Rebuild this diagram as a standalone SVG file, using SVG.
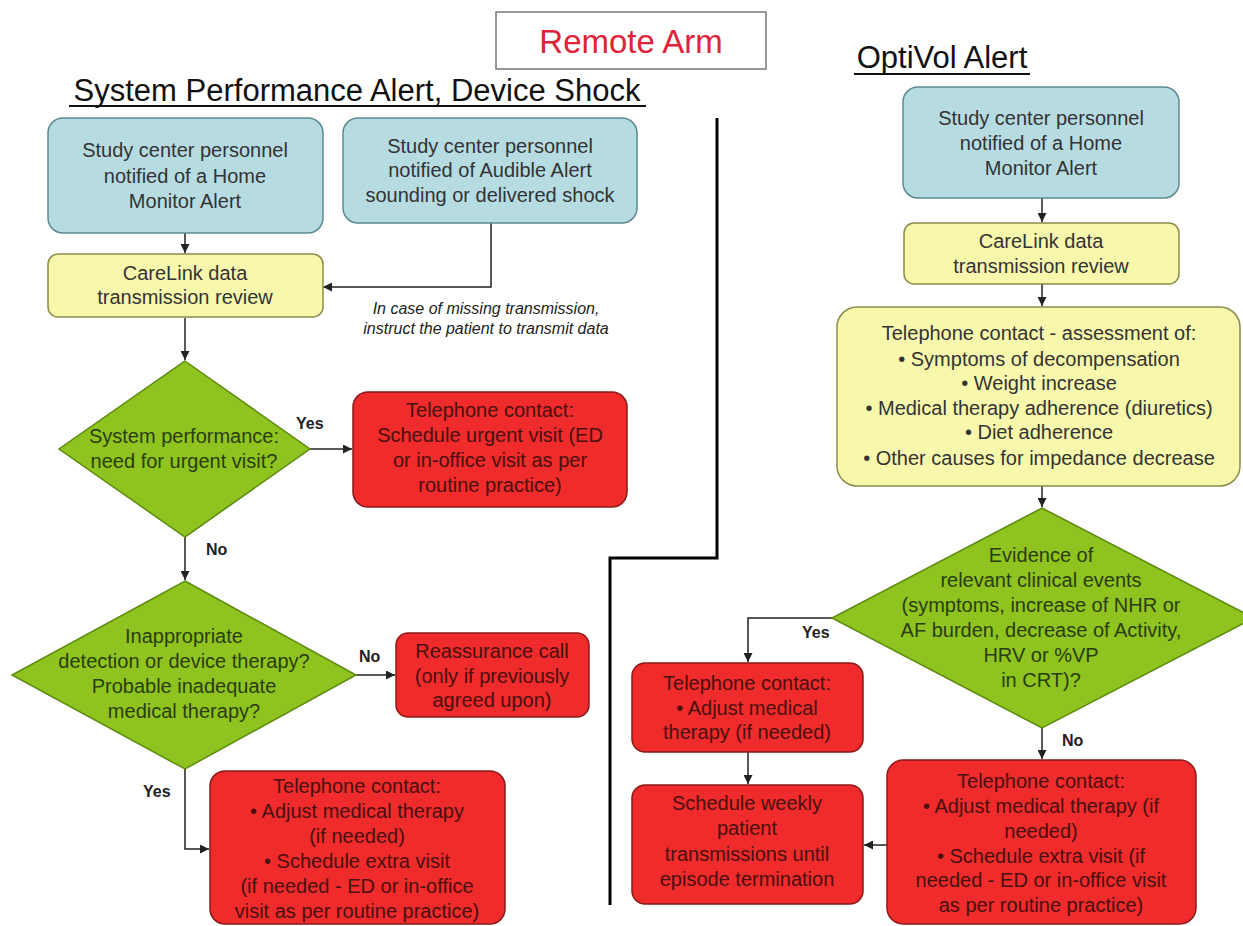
<svg xmlns="http://www.w3.org/2000/svg" width="1243" height="926" viewBox="0 0 1243 926">
<defs>
<style>
text{font-family:"Liberation Sans",Arial,sans-serif;}
.t{font-size:20px;text-anchor:middle;}
.blue rect{fill:#b6dce2;stroke:#5b8a90;stroke-width:1.5;}
.yel rect{fill:#f8f8ad;stroke:#8a8a4a;stroke-width:1.5;}
.red rect{fill:#ef2b2b;stroke:#8b1a1a;stroke-width:1.5;}
.grn polygon{fill:#8fc31f;stroke:#5d8a0f;stroke-width:1.5;}
.blue text,.yel text{fill:#333;}
.red text{fill:#4a0f0f;}
.grn text{fill:#2a3d10;}
.lbl{font-size:16px;font-weight:bold;fill:#222;}
.conn path{fill:none;stroke:#222;stroke-width:1.5;marker-end:url(#ah);}
.hd{font-size:31px;fill:#111;}
</style>
<marker id="ah" viewBox="0 0 10 10" refX="10" refY="5" markerWidth="9" markerHeight="9" markerUnits="userSpaceOnUse" orient="auto">
<path d="M0,0 L10,5 L0,10 z" fill="#222"/>
</marker>
</defs>
<rect width="1243" height="926" fill="#fff"/>

<g id="title">
<rect x="496" y="12" width="270" height="57" fill="#fff" stroke="#777" stroke-width="1.5"/>
<text x="631" y="53" font-size="33" fill="#e0223a" text-anchor="middle">Remote Arm</text>
</g>
<g id="heading-left">
<text class="hd" x="357" y="101" text-anchor="middle">System Performance Alert, Device Shock</text>
<line x1="69" y1="106" x2="646" y2="106" stroke="#111" stroke-width="2"/>
</g>
<g id="heading-right">
<text class="hd" x="942" y="68" text-anchor="middle">OptiVol Alert</text>
<line x1="854" y1="74" x2="1030" y2="74" stroke="#111" stroke-width="2"/>
</g>
<g id="divider">
<path d="M717 118 V558 H610 V905" fill="none" stroke="#000" stroke-width="3"/>
</g>

<g class="conn" id="connectors">
<path d="M185 233 V253"/>
<path d="M491 223 V287 H323"/>
<path d="M185 318 V360"/>
<path d="M310 449 H352"/>
<path d="M185 537 V580"/>
<path d="M356 675 H395"/>
<path d="M185 769 V849 H209"/>
<path d="M1042 198 V222"/>
<path d="M1042 284 V306"/>
<path d="M1042 486 V507"/>
<path d="M832 618 H748 V662"/>
<path d="M1042 728 V759"/>
<path d="M748 752 V784"/>
<path d="M887 845 H864"/>
</g>

<g id="labels">
<text class="lbl" x="296" y="429">Yes</text>
<text class="lbl" x="206" y="555">No</text>
<text class="lbl" x="359" y="662">No</text>
<text class="lbl" x="143" y="797">Yes</text>
<text class="lbl" x="802" y="638">Yes</text>
<text class="lbl" x="1062" y="746">No</text>
</g>

<g id="note">
<text x="486" y="314" font-size="16" font-style="italic" fill="#222" text-anchor="middle">In case of missing transmission,</text>
<text x="486" y="334" font-size="16" font-style="italic" fill="#222" text-anchor="middle">instruct the patient to transmit data</text>
</g>

<g id="home-alert-left" class="blue">
<rect x="48" y="118" width="275" height="115" rx="15"/>
<text class="t" x="185" y="157">Study center personnel</text>
<text class="t" x="185" y="183">notified of a Home</text>
<text class="t" x="185" y="208">Monitor Alert</text>
</g>
<g id="audible-alert" class="blue">
<rect x="343" y="118" width="294" height="105" rx="15"/>
<text class="t" x="490" y="153">Study center personnel</text>
<text class="t" x="490" y="177">notified of Audible Alert</text>
<text class="t" x="490" y="202">sounding or delivered shock</text>
</g>
<g id="carelink-left" class="yel">
<rect x="48" y="254" width="275" height="63" rx="10"/>
<text class="t" x="185" y="280">CareLink data</text>
<text class="t" x="185" y="304">transmission review</text>
</g>
<g id="system-performance" class="grn">
<polygon points="185,361 310,449 185,537 59,449"/>
<text class="t" x="184" y="443">System performance:</text>
<text class="t" x="184" y="468">need for urgent visit?</text>
</g>
<g id="urgent-visit" class="red">
<rect x="353" y="392" width="274" height="115" rx="15"/>
<text class="t" x="490" y="417">Telephone contact:</text>
<text class="t" x="490" y="442">Schedule urgent visit (ED</text>
<text class="t" x="490" y="467">or in-office visit as per</text>
<text class="t" x="490" y="492">routine practice)</text>
</g>
<g id="inappropriate" class="grn">
<polygon points="185,581 356,675 185,769 12,675"/>
<text class="t" x="184" y="643">Inappropriate</text>
<text class="t" x="184" y="668">detection or device therapy?</text>
<text class="t" x="184" y="693">Probable inadequate</text>
<text class="t" x="184" y="718">medical therapy?</text>
</g>
<g id="reassurance" class="red">
<rect x="396" y="633" width="193" height="84" rx="12"/>
<text class="t" x="492" y="658">Reassurance call</text>
<text class="t" x="492" y="683">(only if previously</text>
<text class="t" x="492" y="707">agreed upon)</text>
</g>
<g id="adjust-left" class="red">
<rect x="210" y="771" width="295" height="153" rx="15"/>
<text class="t" x="357" y="793">Telephone contact:</text>
<text class="t" x="357" y="818">• Adjust medical therapy</text>
<text class="t" x="357" y="843">(if needed)</text>
<text class="t" x="357" y="868">• Schedule extra visit</text>
<text class="t" x="357" y="893">(if needed - ED or in-office</text>
<text class="t" x="357" y="918">visit as per routine practice)</text>
</g>

<g id="home-alert-right" class="blue">
<rect x="903" y="87" width="276" height="111" rx="15"/>
<text class="t" x="1041" y="125">Study center personnel</text>
<text class="t" x="1041" y="150">notified of a Home</text>
<text class="t" x="1041" y="175">Monitor Alert</text>
</g>
<g id="carelink-right" class="yel">
<rect x="904" y="223" width="275" height="61" rx="10"/>
<text class="t" x="1041" y="248">CareLink data</text>
<text class="t" x="1041" y="273">transmission review</text>
</g>
<g id="assessment" class="yel">
<rect x="837" y="307" width="403" height="179" rx="20"/>
<text class="t" x="1039" y="340">Telephone contact - assessment of:</text>
<text class="t" x="1039" y="366">• Symptoms of decompensation</text>
<text class="t" x="1039" y="390">• Weight increase</text>
<text class="t" x="1039" y="415">• Medical therapy adherence (diuretics)</text>
<text class="t" x="1039" y="439">• Diet adherence</text>
<text class="t" x="1039" y="465">• Other causes for impedance decrease</text>
</g>
<g id="evidence" class="grn">
<polygon points="1042,508 1254,618 1042,728 832,618"/>
<text class="t" x="1041" y="562">Evidence of</text>
<text class="t" x="1041" y="587">relevant clinical events</text>
<text class="t" x="1041" y="612">(symptoms, increase of NHR or</text>
<text class="t" x="1041" y="637">AF burden, decrease of Activity,</text>
<text class="t" x="1041" y="662">HRV or %VP</text>
<text class="t" x="1041" y="687">in CRT)?</text>
</g>
<g id="adjust-yes" class="red">
<rect x="632" y="663" width="231" height="89" rx="13"/>
<text class="t" x="747" y="690">Telephone contact:</text>
<text class="t" x="747" y="715">• Adjust medical</text>
<text class="t" x="747" y="739">therapy (if needed)</text>
</g>
<g id="weekly" class="red">
<rect x="632" y="785" width="231" height="119" rx="13"/>
<text class="t" x="747" y="810">Schedule weekly</text>
<text class="t" x="747" y="835">patient</text>
<text class="t" x="747" y="861">transmissions until</text>
<text class="t" x="747" y="886">episode termination</text>
</g>
<g id="adjust-no" class="red">
<rect x="887" y="760" width="309" height="164" rx="16"/>
<text class="t" x="1041" y="788">Telephone contact:</text>
<text class="t" x="1041" y="813">• Adjust medical therapy (if</text>
<text class="t" x="1041" y="838">needed)</text>
<text class="t" x="1041" y="863">• Schedule extra visit (if</text>
<text class="t" x="1041" y="887">needed - ED or in-office visit</text>
<text class="t" x="1041" y="912">as per routine practice)</text>
</g>
</svg>
